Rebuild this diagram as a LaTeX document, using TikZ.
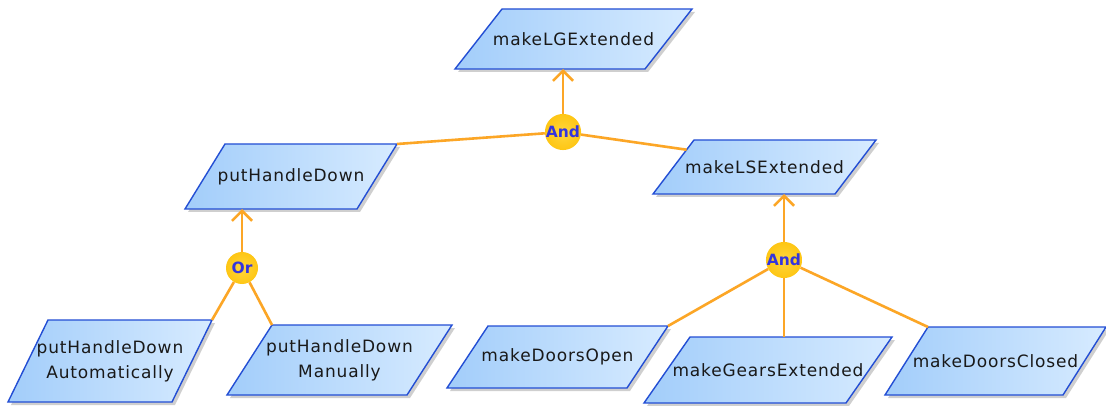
\documentclass[tikz,border=0pt]{standalone}
\usepackage{fontspec}
\newfontfamily\labfont[LetterSpace=5]{DejaVu Sans}
\newfontfamily\gatefont{DejaVu Sans Bold}
\usetikzlibrary{arrows.meta,calc}
\definecolor{pfillA}{RGB}{162,205,250}
\definecolor{pfillB}{RGB}{215,235,255}
\definecolor{pline}{RGB}{35,78,212}
\definecolor{conn}{RGB}{252,166,38}
\definecolor{gatein}{RGB}{255,214,60}
\definecolor{gateout}{RGB}{254,198,20}
\definecolor{gatetext}{RGB}{52,52,222}
\definecolor{shadowc}{RGB}{150,150,150}
\tikzset{
  lab/.style={font=\labfont\fontsize{17}{25}\selectfont, text=black!90, align=center, inner sep=0pt},
  gate/.style={circle, inner color=gatein, outer color=gateout, minimum size=#1, inner sep=0pt,
    font=\gatefont\fontsize{15.5}{15.5}\selectfont, text=gatetext},
  link/.style={draw=conn, line width=2.6pt},
  uparrow/.style={link, -{Straight Barb[length=10pt,width=20pt,line width=2.6pt]}},
  pbox/.style={left color=pfillA, right color=pfillB, draw=pline, line width=1.4pt, line join=miter},
  pshadow/.style={fill=shadowc, opacity=0.45}
}
% name, top-left x, top y, top width, slant, height, text
\newcommand\pgram[7]{%
  \coordinate (#1-tl) at (#2,#3);
  \coordinate (#1-tr) at ({#2+#4},#3);
  \coordinate (#1-br) at ({#2+#4-#5},{#3+#6});
  \coordinate (#1-bl) at ({#2-#5},{#3+#6});
  \fill[pshadow] ([shift={(3,3)}]#1-tl) -- ([shift={(3,3)}]#1-tr) -- ([shift={(3,3)}]#1-br) -- ([shift={(3,3)}]#1-bl) -- cycle;
  \shadedraw[pbox] (#1-tl) -- (#1-tr) -- (#1-br) -- (#1-bl) -- cycle;
  \node[lab] (#1) at ({#2+(#4-#5)/2},{#3+#6/2}) {#7};
}
\begin{document}
\begin{tikzpicture}[x=1pt,y=-1pt]
\useasboundingbox[fill=white] (0,0) rectangle (1106,406);
\pgram{LG}{502}{9}{190}{47}{60}{makeLGExtended}
\pgram{PHD}{225}{144}{172}{40}{65}{putHandleDown}
\pgram{LS}{694}{140}{182}{41}{54}{makeLSExtended}
\pgram{PHDA}{48}{320}{164}{40}{82}{putHandleDown\\Automatically}
\pgram{PHDM}{272}{325}{180}{45}{70}{putHandleDown\\Manually}
\pgram{DO}{488}{326}{180}{41}{62}{makeDoorsOpen}
\pgram{GE}{690}{337}{202}{46}{66}{makeGearsExtended}
\pgram{DC}{928}{327}{178}{43}{68}{makeDoorsClosed}

\node[gate=35pt] (and1) at (563,132) {And};
\node[gate=32pt] (or1) at (242,268) {Or};
\node[gate=35pt] (and2) at (784,260) {And};

\coordinate (LSin) at ($(LS-tl)!0.18!(LS-bl)$);

\draw[uparrow] (and1) -- (and1 |- LG-bl);
\draw[link] (and1) -- (PHD-tr);
\draw[link] (and1) -- (LSin);
\draw[uparrow] (or1) -- (or1 |- PHD-bl);
\draw[link] (or1) -- (PHDA-tr);
\draw[link] (or1) -- (PHDM-tl);
\draw[uparrow] (and2) -- (and2 |- LS-bl);
\draw[link] (and2) -- (DO-tr);
\draw[link] (and2) -- (and2 |- GE-tl);
\draw[link] (and2) -- (DC-tl);
\end{tikzpicture}
\end{document}
